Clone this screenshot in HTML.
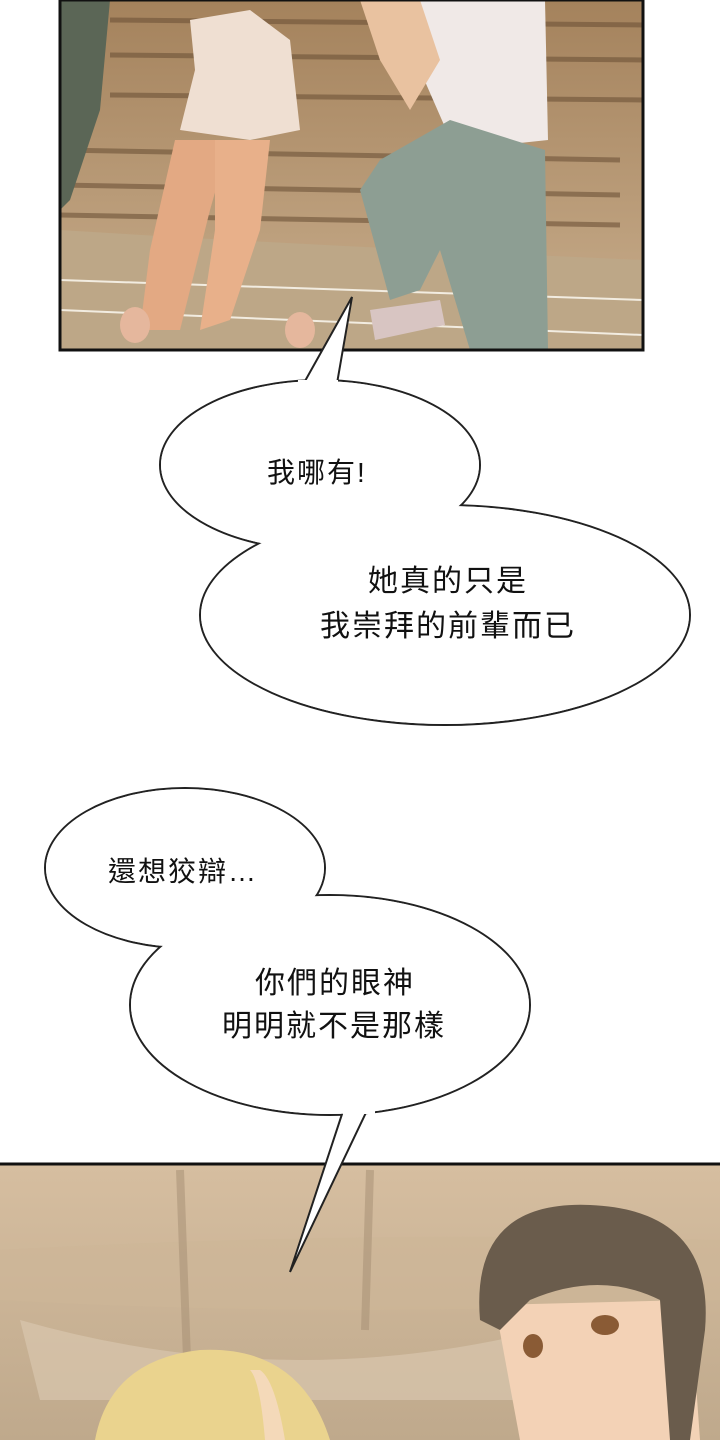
<!DOCTYPE html>
<html><head><meta charset="utf-8"><style>
html,body{margin:0;padding:0;background:#fff;}
svg{display:block}
text{font-family:"Liberation Sans","Noto Sans CJK TC",sans-serif;font-size:30px;letter-spacing:2px;fill:#111}
</style></head><body>
<svg width="720" height="1440" viewBox="0 0 720 1440" xmlns="http://www.w3.org/2000/svg">
<defs>
<linearGradient id="bg1" x1="0" y1="0" x2="0" y2="1"><stop offset="0" stop-color="#a4825c"/><stop offset="1" stop-color="#c9ae8d"/></linearGradient>
<linearGradient id="bg2" x1="0" y1="0" x2="0" y2="1"><stop offset="0" stop-color="#d6bea0"/><stop offset="1" stop-color="#bfa98c"/></linearGradient>
</defs>
<rect width="720" height="1440" fill="#fff"/>
<rect x="60" y="0" width="583" height="350" fill="url(#bg1)"/>
<g stroke="#6e5338" stroke-width="5" opacity=".6">
<line x1="110" y1="20" x2="643" y2="25"/><line x1="110" y1="55" x2="643" y2="60"/><line x1="110" y1="95" x2="643" y2="100"/>
<line x1="60" y1="150" x2="620" y2="160"/><line x1="60" y1="185" x2="620" y2="195"/><line x1="60" y1="215" x2="620" y2="225"/>
</g>
<path d="M60 0 L110 0 L100 110 L70 200 L60 210Z" fill="#5b6656"/>
<path d="M60 230 Q300 245 643 260 L643 350 L60 350Z" fill="#bda787"/>
<g stroke="#f2ece0" stroke-width="2">
<line x1="60" y1="280" x2="643" y2="300"/><line x1="60" y1="310" x2="643" y2="335"/>
</g>
<path d="M190 20 L250 10 L290 40 L300 130 L250 140 L180 130 L195 70Z" fill="#efdfd2"/>
<path d="M175 140 L230 140 L210 210 L180 330 L140 330 L150 250Z" fill="#e3a983"/>
<path d="M215 140 L270 140 L260 230 L230 320 L200 330 L215 230Z" fill="#e8b08a"/>
<ellipse cx="135" cy="325" rx="15" ry="18" fill="#e5b79d"/><ellipse cx="300" cy="330" rx="15" ry="18" fill="#e5b79d"/>
<path d="M400 0 L545 0 L548 140 L455 150 L420 70Z" fill="#f0e9e7"/>
<path d="M380 160 L450 120 L545 150 L548 350 L470 350 L440 250 L420 290 L390 300 L360 190Z" fill="#8d9e93"/>
<path d="M370 310 L440 300 L445 325 L375 340Z" fill="#d8c5c2"/>
<path d="M360 0 L420 0 L440 60 L410 110 L380 60Z" fill="#e9c2a0"/>
<rect x="60" y="0" width="583" height="350" fill="none" stroke="#111" stroke-width="3"/>
<g>
<ellipse cx="320" cy="465" rx="160" ry="85" fill="#fff" stroke="#222" stroke-width="2"/>
<ellipse cx="445" cy="615" rx="245" ry="110" fill="#fff" stroke="#222" stroke-width="2"/>
<path d="M300 390 L352 297 L335 395Z" fill="#fff" stroke="#222" stroke-width="2"/>
<ellipse cx="320" cy="465" rx="159" ry="84" fill="#fff"/>
<ellipse cx="445" cy="615" rx="244" ry="109" fill="#fff"/>
<rect x="298" y="380" width="40" height="20" fill="#fff"/>
<text x="267" y="482" style="font-size:28px">我哪有!</text>
<text x="368" y="591">她真的只是</text>
<text x="320" y="636">我崇拜的前輩而已</text>
</g>
<rect x="0" y="1163" width="720" height="277" fill="url(#bg2)"/>
<path d="M0 1250 Q350 1230 720 1240 L720 1300 Q350 1320 0 1300Z" fill="#cdb697" opacity=".6"/>
<path d="M20 1320 Q300 1400 580 1320 L560 1400 L40 1400Z" fill="#d8c6ae" opacity=".7"/>
<g stroke="#a58e73" stroke-width="8" opacity=".5"><line x1="180" y1="1170" x2="190" y2="1440"/><line x1="370" y1="1170" x2="365" y2="1330"/></g>
<path d="M495 1305 L690 1300 L700 1440 L520 1440 Z" fill="#f3d2b6"/>
<path d="M480 1320 Q470 1200 590 1205 Q715 1210 705 1330 L690 1440 L670 1440 L660 1300 Q600 1270 530 1300 L500 1330Z" fill="#6a5c4c"/>
<ellipse cx="605" cy="1325" rx="14" ry="10" fill="#8a5b35"/><ellipse cx="533" cy="1346" rx="10" ry="12" fill="#8a5b35"/>
<path d="M95 1440 Q110 1360 200 1350 Q300 1345 330 1440Z" fill="#ead38e"/>
<path d="M250 1370 Q260 1380 265 1440 L285 1440 Q275 1380 260 1370Z" fill="#f4d9b9"/>
<line x1="0" y1="1164" x2="720" y2="1164" stroke="#111" stroke-width="3"/>
<g>
<ellipse cx="185" cy="868" rx="140" ry="80" fill="#fff" stroke="#222" stroke-width="2"/>
<ellipse cx="330" cy="1005" rx="200" ry="110" fill="#fff" stroke="#222" stroke-width="2"/>
<path d="M345 1105 L290 1272 L372 1100Z" fill="#fff" stroke="#222" stroke-width="2"/>
<ellipse cx="185" cy="868" rx="139" ry="79" fill="#fff"/>
<ellipse cx="330" cy="1005" rx="199" ry="109" fill="#fff"/>
<rect x="343" y="1090" width="32" height="24" fill="#fff"/>
<text x="108" y="881" style="font-size:28px">還想狡辯…</text>
<text x="255" y="993">你們的眼神</text>
<text x="222" y="1036">明明就不是那樣</text>
</g>
</svg>
</body></html>
